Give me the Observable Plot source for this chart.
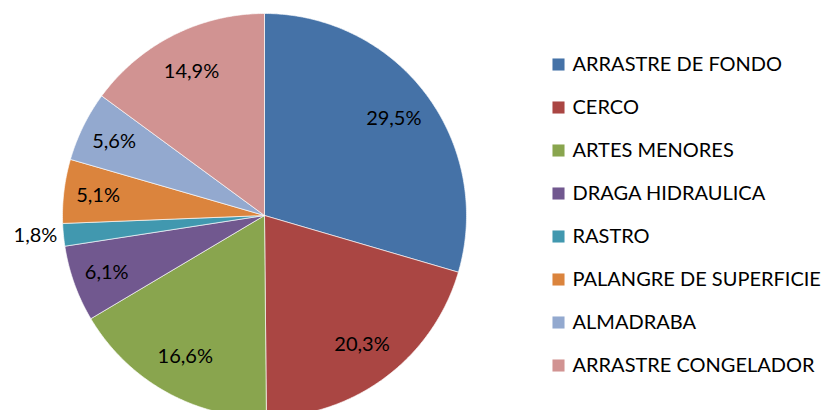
<!DOCTYPE html>
<html>
<head>
<meta charset="utf-8">
<script src="https://cdn.jsdelivr.net/npm/d3@7"></script>
<script src="https://cdn.jsdelivr.net/npm/@observablehq/plot@0.6"></script>
<style>
  html, body { margin: 0; padding: 0; background: #fff; }
  #wrap { position: relative; width: 824px; height: 410px; overflow: hidden; font-family: Lato, "Open Sans", sans-serif; }
  #pie { position: absolute; left: 0; top: 0; }
  #legend { position: absolute; left: 530px; top: 0; }
</style>
</head>
<body>
<div id="wrap"><div id="pie"></div><div id="legend"></div></div>
<script>
const categories = ["ARRASTRE DE FONDO", "CERCO", "ARTES MENORES", "DRAGA HIDRAULICA", "RASTRO", "PALANGRE DE SUPERFICIE", "ALMADRABA", "ARRASTRE CONGELADOR"];
const values = [29.5, 20.3, 16.6, 6.1, 1.8, 5.1, 5.6, 14.9];
const labels = ["29,5%", "20,3%", "16,6%", "6,1%", "1,8%", "5,1%", "5,6%", "14,9%"];
const colors = ["#4572A7", "#AA4643", "#89A54E", "#71588F", "#4198AF", "#DB843D", "#93A9CF", "#D19392"];

const FONT = "Lato, 'Open Sans', sans-serif";
const FS = 20;
const R = 202;           // radius in px (layout)
const CX = 264, CY = 215; // center in px (layout)

const data = categories.map((c, i) => ({cat: c, value: values[i], label: labels[i]}));
const arcs = d3.pie().sort(null).value(d => d.value)(data);

// polygon outline of each slice in unit-circle coordinates
const pts = [];
for (const a of arcs) {
  const n = Math.max(2, Math.ceil((a.endAngle - a.startAngle) / 0.01));
  pts.push({cat: a.data.cat, x: 0, y: 0});
  for (let k = 0; k <= n; k++) {
    const t = a.startAngle + (a.endAngle - a.startAngle) * k / n;
    pts.push({cat: a.data.cat, x: Math.sin(t), y: Math.cos(t)});
  }
  pts.push({cat: a.data.cat, x: 0, y: 0});
}

const lab = arcs.map(a => {
  const m = (a.startAngle + a.endAngle) / 2;
  const outside = a.data.value < 3;
  const r = outside ? 1.03 : (a.data.value < 7 ? 0.83 : 0.8);
  return {x: r * Math.sin(m), y: r * Math.cos(m), label: a.data.label, outside};
});

const W = 530, H = 410;
const pie = Plot.plot({
  width: W, height: H, margin: 0,
  style: {fontFamily: FONT, background: "transparent"},
  x: {domain: [-CX / R, (W - CX) / R], axis: null},
  y: {domain: [-(H - CY) / R, CY / R], axis: null},
  color: {domain: categories, range: colors},
  marks: [
    Plot.line(pts, {x: "x", y: "y", z: "cat", fill: "cat", stroke: "#ffffff", strokeWidth: 0.8, strokeOpacity: 0.8, curve: "linear"}),
    Plot.text(lab.filter(d => !d.outside), {x: "x", y: "y", text: "label", fontSize: FS, fill: "#000", textAnchor: "middle"}),
    Plot.text(lab.filter(d => d.outside), {x: "x", y: "y", text: "label", fontSize: FS, fill: "#000", textAnchor: "end"})
  ]
});
document.getElementById("pie").appendChild(pie);

const legend = Plot.plot({
  width: 294, height: H, margin: 0,
  style: {fontFamily: FONT, background: "transparent"},
  x: {domain: [0, 1], range: [0, 294], axis: null},
  y: {type: "point", domain: categories, range: [63, 366], padding: 0, axis: null},
  color: {domain: categories, range: colors},
  marks: [
    Plot.dot(categories, {x: () => 0, y: d => d, dx: 28, symbol: "square", r: 6.8, fill: d => d, stroke: null}),
    Plot.text(categories, {x: () => 0, y: d => d, dx: 42, text: d => d, textAnchor: "start", fontSize: FS, fill: "#000"})
  ]
});
document.getElementById("legend").appendChild(legend);
</script>
</body>
</html>
